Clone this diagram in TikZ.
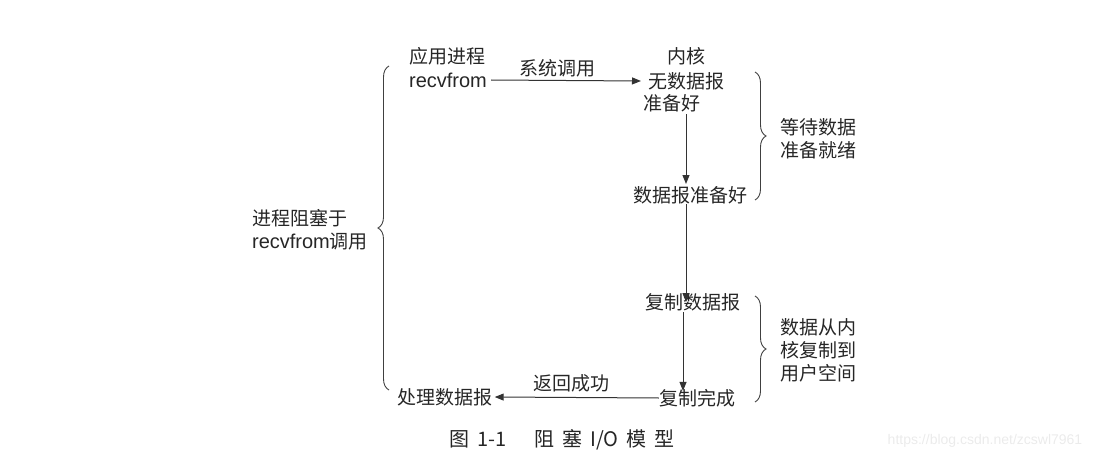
\documentclass[tikz,border=0pt]{standalone}
\usepackage{fontspec}
\setmainfont{Noto Sans CJK SC}
\newfontfamily\latinfont{Liberation Sans}
\usetikzlibrary{arrows.meta,decorations.pathreplacing}
\tikzset{
  txt/.style = {inner sep=0pt, text=black!85, font=\fontsize{19}{23}\selectfont},
  flow/.style = {draw=black!80, line width=1pt, -{Triangle[length=9pt,width=7pt]}},
  bracket/.style = {draw=black!75, line width=0.9pt, decorate, decoration={brace, amplitude=11pt}}
}
\begin{document}
\begin{tikzpicture}[x=1pt, y=-1pt]
			\useasboundingbox (0,0) rectangle (1098,460);
			% application side
			\node[txt] (app) at (447,56) {应用进程};
			\node[txt, font=\latinfont\fontsize{20}{23}\selectfont] (recv) at (448,80) {recvfrom};
			\node[txt] (done) at (445,397) {处理数据报};
			% kernel side
			\node[txt] (kern) at (686,56) {内核};
			\node[txt] (nodata) at (686,81) {无数据报};
			\node[txt, anchor=west] (notready) at (643,103) {准备好};
			\node[txt] (ready) at (690,195) {数据报准备好};
			\node[txt] (copy) at (693,302) {复制数据报};
			\node[txt] (copied) at (697,398) {复制完成};
			% arrows
			\coordinate (k1) at (686,114);
			\draw[flow] (recv.east) ++(4,0) coordinate (r0) -- (nodata.west -| 641,0) coordinate (r1);
			\node[txt, above] (syscall) at (557,77) {系统调用};
			\draw[flow] (k1) -- ([yshift=2pt]ready.north -| k1);
			\draw[flow] (ready.south -| k1) -- ([yshift=-9pt]copy.north -| k1);
			\coordinate (c1) at (683,312);
			\draw[flow] (c1) -- ([yshift=-2pt]copied.north -| c1);
			\draw[flow] (copied.west) -- ([xshift=2pt]done.east);
			\node[txt, above] (ret) at (571,392) {返回成功};
			% braces
			\coordinate (lb0) at (389,390);
			\coordinate (lb1) at (389,66);
			\draw[bracket] (lb0) -- (lb1);
			\node[txt, align=left] (block) at (310,230) {进程阻塞于\\{\latinfont\fontsize{20}{23}\selectfont recvfrom}调用};
			\coordinate (rb0) at (755,72);
			\coordinate (rb1) at (755,200);
			\draw[bracket] (rb0) -- (rb1);
			\node[txt, align=left] (wait) at (818,139) {等待数据\\准备就绪};
			\coordinate (rb2) at (755,296);
			\coordinate (rb3) at (755,402);
			\draw[bracket] (rb2) -- (rb3);
			\node[txt, align=left] (move) at (818,350) {数据从内\\核复制到\\用户空间};
			% caption and mark
			\node[txt, font=\fontsize{20}{23}\selectfont] (cap) at (562,440) {图\hspace{8pt}{\rmfamily 1-1}\hspace{28pt}阻\hspace{8pt}塞\hspace{8pt}{\rmfamily I/O}\hspace{8pt}模\hspace{8pt}型};
			\node[inner sep=0pt, text=black!8, font=\latinfont\fontsize{14}{16}\selectfont] (mark) at (985,441) {https://blog.csdn.net/zcswl7961};
		\end{tikzpicture}
\end{document}
